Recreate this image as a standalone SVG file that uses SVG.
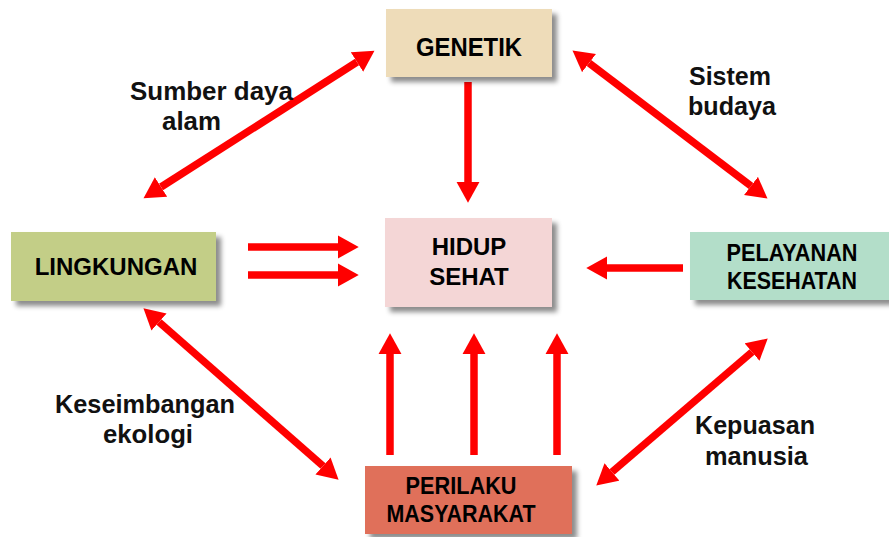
<svg xmlns="http://www.w3.org/2000/svg" width="889" height="537" viewBox="0 0 889 537">
<style>
.box{stroke:none;filter:url(#sh)}
.nt{font-family:"Liberation Sans",Arial,sans-serif;font-weight:bold;fill:#000;text-anchor:middle}
.lb{font-family:"Liberation Sans",Arial,sans-serif;font-weight:bold;font-size:26px;fill:#111}
.ar{stroke:#FF0000;stroke-width:7.5;fill:none;marker-end:url(#ah)}
.dar{stroke:#FF0000;stroke-width:7.5;fill:none;marker-start:url(#ah);marker-end:url(#ah)}
</style>
<defs>
<filter id="sh" x="-10%" y="-10%" width="130%" height="140%">
<feDropShadow dx="5" dy="5" stdDeviation="2.5" flood-color="#000" flood-opacity="0.45"/>
</filter>
<marker id="ah" markerUnits="userSpaceOnUse" markerWidth="22" markerHeight="24" viewBox="0 -11 20 22" refX="0" refY="0" orient="auto-start-reverse">
<path d="M0,-10.5 L19,0 L0,10.5 z" fill="#FF0000"/>
</marker>
</defs>
<rect width="889" height="537" fill="#fff"/>

<g id="connectors">
<line class="ar" x1="468" y1="82" x2="468" y2="182"/>
<line class="ar" x1="248" y1="247" x2="338" y2="247"/>
<line class="ar" x1="248" y1="275" x2="338" y2="275"/>
<line class="ar" x1="683" y1="268" x2="607" y2="268"/>
<line class="ar" x1="390" y1="455" x2="390" y2="354"/>
<line class="ar" x1="474" y1="455" x2="474" y2="354"/>
<line class="ar" x1="557" y1="455" x2="557" y2="354"/>
<line class="dar" x1="161" y1="187" x2="357" y2="62"/>
<line class="dar" x1="589" y1="63" x2="751" y2="186"/>
<line class="dar" x1="159" y1="322" x2="323" y2="466"/>
<line class="dar" x1="752" y1="352" x2="612" y2="472"/>
</g>

<g id="genetik">
<rect class="box" x="386" y="9" width="166" height="68" fill="#EEDCB9"/>
<text class="nt" x="469" y="56" font-size="25" textLength="106" lengthAdjust="spacingAndGlyphs">GENETIK</text>
</g>
<g id="hidup-sehat">
<rect class="box" x="385" y="218" width="167" height="89" fill="#F4D6D6"/>
<text class="nt" x="469" y="255" font-size="24">HIDUP</text>
<text class="nt" x="469" y="285" font-size="24">SEHAT</text>
</g>
<g id="lingkungan">
<rect class="box" x="11" y="232" width="205" height="69" fill="#C3CE87"/>
<text class="nt" x="116" y="275" font-size="24">LINGKUNGAN</text>
</g>
<g id="pelayanan-kesehatan">
<rect class="box" x="690" y="232" width="205" height="68" fill="#B3DEC9"/>
<text class="nt" x="792" y="261" font-size="23" textLength="131" lengthAdjust="spacingAndGlyphs">PELAYANAN</text>
<text class="nt" x="792" y="289" font-size="23" textLength="130" lengthAdjust="spacingAndGlyphs">KESEHATAN</text>
</g>
<g id="perilaku-masyarakat">
<rect class="box" x="365" y="466" width="207" height="68" fill="#E0705A"/>
<text class="nt" x="461" y="494" font-size="23" textLength="111" lengthAdjust="spacingAndGlyphs">PERILAKU</text>
<text class="nt" x="461" y="522" font-size="23" textLength="149" lengthAdjust="spacingAndGlyphs">MASYARAKAT</text>
</g>

<g id="labels">
<text class="lb" x="130" y="100" textLength="163" lengthAdjust="spacingAndGlyphs">Sumber daya</text>
<text class="lb" x="162" y="130" textLength="59" lengthAdjust="spacingAndGlyphs">alam</text>
<text class="lb" x="689" y="85" textLength="82" lengthAdjust="spacingAndGlyphs">Sistem</text>
<text class="lb" x="688" y="115" textLength="88" lengthAdjust="spacingAndGlyphs">budaya</text>
<text class="lb" x="55" y="413" textLength="180" lengthAdjust="spacingAndGlyphs">Keseimbangan</text>
<text class="lb" x="103" y="443" textLength="90" lengthAdjust="spacingAndGlyphs">ekologi</text>
<text class="lb" x="695" y="434" textLength="120" lengthAdjust="spacingAndGlyphs">Kepuasan</text>
<text class="lb" x="705" y="465" textLength="103" lengthAdjust="spacingAndGlyphs">manusia</text>
</g>
</svg>
